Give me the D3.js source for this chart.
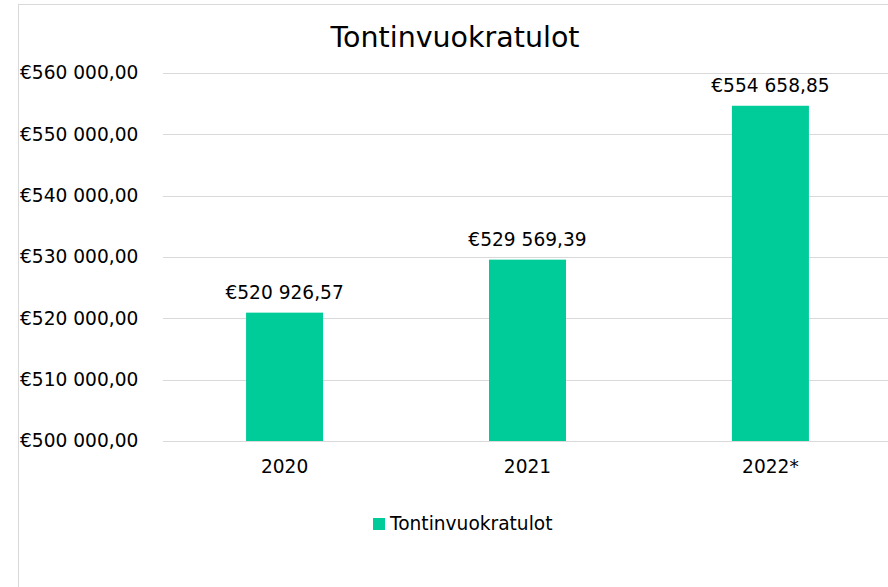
<!DOCTYPE html>
<html>
<head>
<meta charset="utf-8">
<script src="https://cdn.jsdelivr.net/npm/d3@7"></script>
<style>
  body { margin: 0; background: #fff; }
  text { font-family: "DejaVu Sans", Verdana, sans-serif; fill: #000; }
</style>
</head>
<body>
<div id="chart"></div>
<script>
var years = ["2020", "2021", "2022*"];
var revenues = [520926.57, 529569.39, 554658.85];
var yTicks = [500000, 510000, 520000, 530000, 540000, 550000, 560000];
var seriesName = "Tontinvuokratulot";
var chartTitle = "Tontinvuokratulot";

var svgWidth = 888;
var svgHeight = 587;
var margin = {top: 73, left: 163, right: -4, bottom: 146};
var width = svgWidth - margin.left - margin.right;
var height = svgHeight - margin.top - margin.bottom;

var svg = d3.select("#chart").append("svg").attr("width", svgWidth).attr("height", svgHeight);

// chart border
svg.append("rect").attr("x", 18.5).attr("y", 4.5).attr("width", 900).attr("height", 600)
    .attr("fill", "none").attr("stroke", "#d9d9d9");

var chartGroup = svg.append("g").attr("transform", `translate(${margin.left},${margin.top})`);

var xScale = d3.scaleBand().domain(years).range([0, width]).paddingInner(0.683).paddingOuter(0.342);
var yScale = d3.scaleLinear().domain([500000, 560000]).range([height, 0]);

var fmt = function(v) {
    var parts = v.toFixed(2).split(".");
    var intPart = parts[0].replace(/\B(?=(\d{3})+(?!\d))/g, " ");
    return "€" + intPart + "," + parts[1];
};

// gridlines
chartGroup.append("g").selectAll("line").data(yTicks).enter().append("line")
    .attr("x1", 0).attr("x2", width)
    .attr("y1", d => Math.round(yScale(d)) + 0.5).attr("y2", d => Math.round(yScale(d)) + 0.5)
    .attr("stroke", "#d9d9d9").attr("stroke-width", 1);

// y axis labels
var leftAxis = d3.axisLeft(yScale).tickValues(yTicks).tickFormat(fmt).tickSize(0).tickPadding(0);
var yAxisG = chartGroup.append("g").call(leftAxis);
yAxisG.select(".domain").remove();
yAxisG.selectAll("text").attr("text-anchor", "start").attr("x", 20 - margin.left)
    .attr("font-size", "18.6px").attr("font-family", "DejaVu Sans, Verdana, sans-serif").attr("fill", "#000");

// x axis labels
var bottomAxis = d3.axisBottom(xScale).tickSize(0).tickPadding(19);
var xAxisG = chartGroup.append("g").attr("transform", `translate(0,${height})`).call(bottomAxis);
xAxisG.select(".domain").remove();
xAxisG.selectAll("text").attr("font-size", "18.6px").attr("font-family", "DejaVu Sans, Verdana, sans-serif").attr("fill", "#000");

// bars
chartGroup.selectAll("rect.bar").data(revenues).enter().append("rect").attr("class", "bar")
    .attr("x", (d, i) => xScale(years[i]))
    .attr("width", xScale.bandwidth())
    .attr("y", d => yScale(d))
    .attr("height", d => height - yScale(d))
    .attr("fill", "#00cc99");

// data labels
chartGroup.selectAll("text.lbl").data(revenues).enter().append("text").attr("class", "lbl")
    .attr("x", (d, i) => xScale(years[i]) + xScale.bandwidth() / 2)
    .attr("y", d => yScale(d) - 14)
    .attr("text-anchor", "middle").attr("font-size", "18.6px")
    .text(d => fmt(d));

// title
svg.append("text").attr("x", 455).attr("y", 47).attr("text-anchor", "middle")
    .attr("font-size", "28.5px").text(chartTitle);

// legend
var legend = svg.append("g").attr("transform", "translate(373,518)");
legend.append("rect").attr("width", 12).attr("height", 12).attr("fill", "#00cc99");
legend.append("text").attr("x", 17).attr("y", 12).attr("font-size", "18.6px").text(seriesName);
</script>
</body>
</html>
